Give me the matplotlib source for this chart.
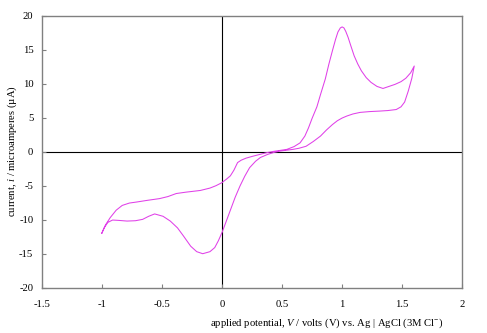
import matplotlib
matplotlib.use("Agg")
import matplotlib.pyplot as plt

# forward (positive-going) sweep, V vs Ag|AgCl and current in microamperes
FWD_E = [-1.00, -0.97, -0.93, -0.88, -0.83, -0.77, -0.71, -0.62, -0.52, -0.45,
         -0.38, -0.30, -0.18, -0.10, -0.05, 0.00, 0.04, 0.07, 0.10, 0.13,
         0.16, 0.20, 0.26, 0.32, 0.37, 0.43, 0.48, 0.54, 0.60, 0.65,
         0.69, 0.72, 0.75, 0.79, 0.82, 0.86, 0.89, 0.92, 0.945, 0.965,
         0.985, 1.00, 1.015, 1.03, 1.05, 1.07, 1.10, 1.13, 1.16, 1.20,
         1.24, 1.29, 1.34, 1.39, 1.44, 1.49, 1.53, 1.57, 1.60]
FWD_I = [-12.0, -10.8, -9.7, -8.6, -7.9, -7.55, -7.4, -7.15, -6.9, -6.6,
         -6.15, -5.95, -5.7, -5.35, -5.0, -4.55, -4.0, -3.55, -2.7, -1.6,
         -1.25, -0.95, -0.65, -0.38, -0.15, 0.05, 0.18, 0.34, 0.75, 1.3,
         2.3, 3.5, 4.9, 6.6, 8.4, 10.7, 12.9, 14.9, 16.5, 17.6,
         18.2, 18.35, 18.2, 17.7, 16.8, 15.7, 14.1, 12.9, 11.9, 10.9,
         10.2, 9.6, 9.3, 9.6, 9.9, 10.3, 10.8, 11.6, 12.6]

# reverse (negative-going) sweep
REV_E = [1.60, 1.58, 1.55, 1.52, 1.49, 1.45, 1.38, 1.31, 1.23, 1.15,
         1.09, 1.04, 1.00, 0.96, 0.92, 0.87, 0.82, 0.76, 0.70, 0.64,
         0.59, 0.53, 0.48, 0.43, 0.38, 0.32, 0.28, 0.23, 0.19, 0.15,
         0.11, 0.07, 0.03, 0.00, -0.03, -0.06, -0.10, -0.16, -0.21, -0.26,
         -0.32, -0.37, -0.43, -0.49, -0.56, -0.61, -0.66, -0.72, -0.79, -0.86,
         -0.91, -0.95, -0.98, -1.00]
REV_I = [12.6, 10.8, 8.9, 7.3, 6.6, 6.2, 6.05, 5.97, 5.9, 5.78,
         5.55, 5.25, 4.95, 4.55, 4.0, 3.2, 2.3, 1.5, 0.8, 0.5,
         0.34, 0.2, 0.08, -0.12, -0.4, -0.85, -1.4, -2.35, -3.6, -5.05,
         -6.7, -8.6, -10.5, -11.9, -13.1, -14.1, -14.7, -15.0, -14.7, -13.9,
         -12.4, -11.2, -10.2, -9.5, -9.15, -9.5, -9.95, -10.15, -10.2, -10.1,
         -10.05, -10.4, -11.2, -12.0]

X_TICKS = [-1.5, -1, -0.5, 0, 0.5, 1, 1.5, 2]
X_LABELS = ["-1.5", "-1", "-0.5", "0", "0.5", "1", "1.5", "2"]
Y_TICKS = [-20, -15, -10, -5, 0, 5, 10, 15, 20]

LINE = "#e040e8"
SPINE = "#808080"

plt.rcParams["font.family"] = "Liberation Serif"
plt.rcParams["mathtext.fontset"] = "custom"
plt.rcParams["mathtext.rm"] = "Liberation Serif"
plt.rcParams["mathtext.it"] = "Liberation Serif:italic"
plt.rcParams["axes.unicode_minus"] = False

fig = plt.figure(figsize=(4.87, 3.33), dpi=100, facecolor="white")
ax = fig.add_axes([0.0856, 0.136, 0.8637, 0.8169])

ax.axhline(0, color="black", lw=0.8, zorder=1)
ax.axvline(0, color="black", lw=0.8, zorder=1)
ax.plot(FWD_E + REV_E, FWD_I + REV_I, color=LINE, lw=0.75, zorder=2)

ax.set_xlim(-1.5, 2)
ax.set_ylim(-20, 20)
ax.set_xticks(X_TICKS, X_LABELS)
ax.set_yticks(Y_TICKS, [str(v) for v in Y_TICKS])
ax.tick_params(axis="x", direction="in", length=3, width=0.8, color=SPINE,
               labelsize=7.7, pad=9)
ax.tick_params(axis="y", direction="in", length=3, width=0.8, color=SPINE,
               labelsize=7.7, pad=6)
for spine in ax.spines.values():
    spine.set_color(SPINE)
    spine.set_linewidth(1.0)

fig.text(12 / 487, 0.545, r"current, $i$ / microamperes (µA)", rotation=90,
         ha="center", va="center", fontsize=7.7)
fig.text(443 / 487, 10 / 333,
         r"applied potential, $V$ / volts (V) vs. Ag | AgCl (3M Cl$^{-}$)",
         ha="right", va="center", fontsize=7.7)

fig.savefig("out.png", dpi=100, facecolor="white")
